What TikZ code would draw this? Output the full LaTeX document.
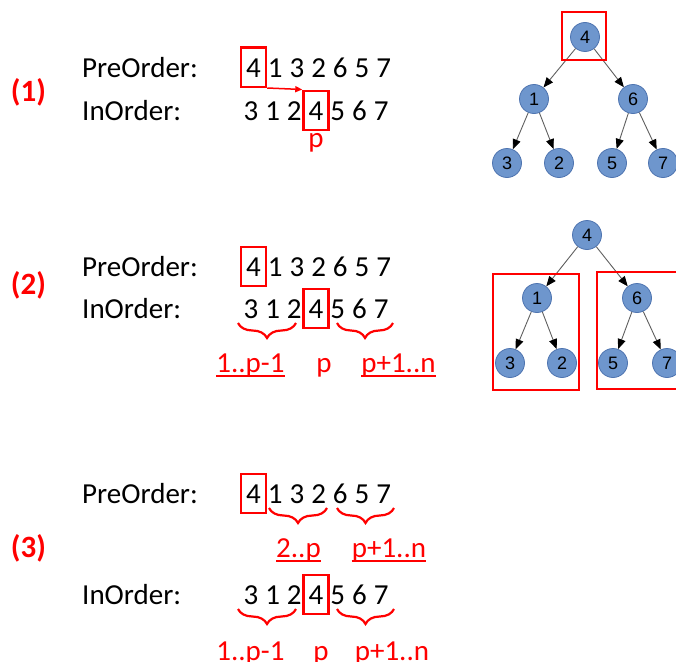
\documentclass[tikz,border=0pt]{standalone}
\usepackage{fontspec}
\setmainfont{Carlito}
\newfontfamily\treefont{Liberation Sans}
\usetikzlibrary{decorations.pathreplacing,arrows.meta,calc}

\definecolor{hl}{RGB}{255,0,0}
\definecolor{nodefill}{RGB}{110,150,205}
\definecolor{nodeline}{RGB}{78,116,176}
\definecolor{edgegray}{RGB}{95,95,95}

\begin{document}
\begin{tikzpicture}[x=1pt,y=-1pt,
  txt/.style={font=\fontsize{29}{34}\selectfont, inner sep=0pt, anchor=base},
  dig/.style={txt, text height=19.5pt, text depth=0pt},
  hbox/.style={draw=hl, line width=2.5pt, minimum width=25pt, minimum height=39pt, inner sep=0pt},
  lbl/.style={txt, text=hl},
  sec/.style={font=\bfseries\fontsize{31}{36}\selectfont, text=hl, inner sep=0pt},
  ul/.style={draw=hl, line width=1.6pt},
  brc/.style={draw=hl, line width=2.2pt, decorate, decoration={brace, mirror, amplitude=15pt}},
  tn/.style={circle, fill=nodefill, draw=nodeline, line width=0.8pt, minimum size=29pt, inner sep=0pt, font=\treefont\fontsize{18}{18}\selectfont},
  te/.style={draw=edgegray, line width=0.9pt, -{Triangle[length=10pt,width=8pt,color=black]}},
  tbox/.style={draw=hl, line width=2.5pt}
]
\useasboundingbox (0,0) rectangle (676,661);

% ---------- (1) ----------
\node[sec] (s1) at (28.5,92.5) {(1)};
\node[txt, anchor=base west] (pre1) at (82,77) {PreOrder:};
\node[txt, anchor=base west] (in1) at (82,120) {InOrder:};
\foreach \d [count=\i] in {4,1,3,2,6,5,7}
  \node[dig] (ap\i) at (253.5+21.7*\i-21.7,77) {\d};
\foreach \d [count=\i] in {3,1,2,4,5,6,7}
  \node[dig] (ai\i) at (250.9+21.7*\i-21.7,120) {\d};
\node[hbox] (abp) at (ap1.center) {};
\node[hbox] (abi) at (ai4.center) {};
\draw[hl, line width=1.5pt, -{Triangle[length=7pt,width=6pt]}] (abp.south east) -- (abi.north west);
\node[lbl] (ap) at (316,147) {p};

% tree with the root marked
\node[tn] (t4) at (585,37) {4};
\node[tn] (t1) at (534,99) {1};
\node[tn] (t6) at (633,99) {6};
\node[tn] (t3) at (507,163) {3};
\node[tn] (t2) at (559,163) {2};
\node[tn] (t5) at (612,163) {5};
\node[tn] (t7) at (663,163) {7};
\foreach \a/\b in {t4/t1,t4/t6,t1/t3,t1/t2,t6/t5,t6/t7}
  \draw[te] (\a) -- (\b);
\draw[tbox] (562,12) rectangle (606,60);

% ---------- (2) ----------
\node[sec] (s2) at (28.5,285) {(2)};
\node[txt, anchor=base west] (pre2) at (82,276) {PreOrder:};
\node[txt, anchor=base west] (in2) at (82,318) {InOrder:};
\foreach \d [count=\i] in {4,1,3,2,6,5,7}
  \node[dig] (bp\i) at (253.5+21.7*\i-21.7,276) {\d};
\foreach \d [count=\i] in {3,1,2,4,5,6,7}
  \node[dig] (bi\i) at (250.9+21.7*\i-21.7,318) {\d};
\node[hbox] (bbp) at (bp1.center) {};
\node[hbox] (bbi) at (bi4.center) {};
\draw[brc] (238,323) -- (296,323);
\draw[brc] (337,323) -- (393,323);
\node[lbl] (bl1) at (250.5,372) {1..p-1};
\node[lbl] (bl2) at (324,372) {p};
\node[lbl] (bl3) at (398.5,372) {p+1..n};
\draw[ul] ([yshift=-4pt]bl1.base west) -- ([yshift=-4pt]bl1.base east);
\draw[ul] ([yshift=-4pt]bl3.base west) -- ([yshift=-4pt]bl3.base east);

% tree with both subtrees marked
\node[tn] (u4) at (587,235) {4};
\node[tn] (u1) at (537,298) {1};
\node[tn] (u6) at (637,298) {6};
\node[tn] (u3) at (510,363) {3};
\node[tn] (u2) at (562,363) {2};
\node[tn] (u5) at (613,363) {5};
\node[tn] (u7) at (667,363) {7};
\foreach \a/\b in {u4/u1,u4/u6,u1/u3,u1/u2,u6/u5,u6/u7}
  \draw[te] (\a) -- (\b);
\draw[tbox] (493,274) rectangle (579,390);
\draw[tbox] (597,272) rectangle (690,389);

% ---------- (3) ----------
\node[sec] (s3) at (28.5,548) {(3)};
\node[txt, anchor=base west] (pre3) at (82,503) {PreOrder:};
\node[txt, anchor=base west] (in3) at (82,604) {InOrder:};
\foreach \d [count=\i] in {4,1,3,2,6,5,7}
  \node[dig] (cp\i) at (253.5+21.7*\i-21.7,503) {\d};
\foreach \d [count=\i] in {3,1,2,4,5,6,7}
  \node[dig] (ci\i) at (250.9+21.7*\i-21.7,604) {\d};
\node[hbox] (cbp) at (cp1.center) {};
\node[hbox] (cbi) at (ci4.center) {};
\draw[brc] (269,508) -- (327,508);
\draw[brc] (337,508) -- (394,508);
\node[lbl] (cl1) at (298.5,557) {2..p};
\node[lbl] (cl2) at (389,557) {p+1..n};
\draw[ul] ([yshift=-4pt]cl1.base west) -- ([yshift=-4pt]cl1.base east);
\draw[ul] ([yshift=-4pt]cl2.base west) -- ([yshift=-4pt]cl2.base east);
\draw[brc] (238,609) -- (296,609);
\draw[brc] (337,609) -- (394,609);
\node[lbl] (cl3) at (250.5,660) {1..p-1};
\node[lbl] (cl4) at (321,660) {p};
\node[lbl] (cl5) at (392,660) {p+1..n};
\end{tikzpicture}
\end{document}
